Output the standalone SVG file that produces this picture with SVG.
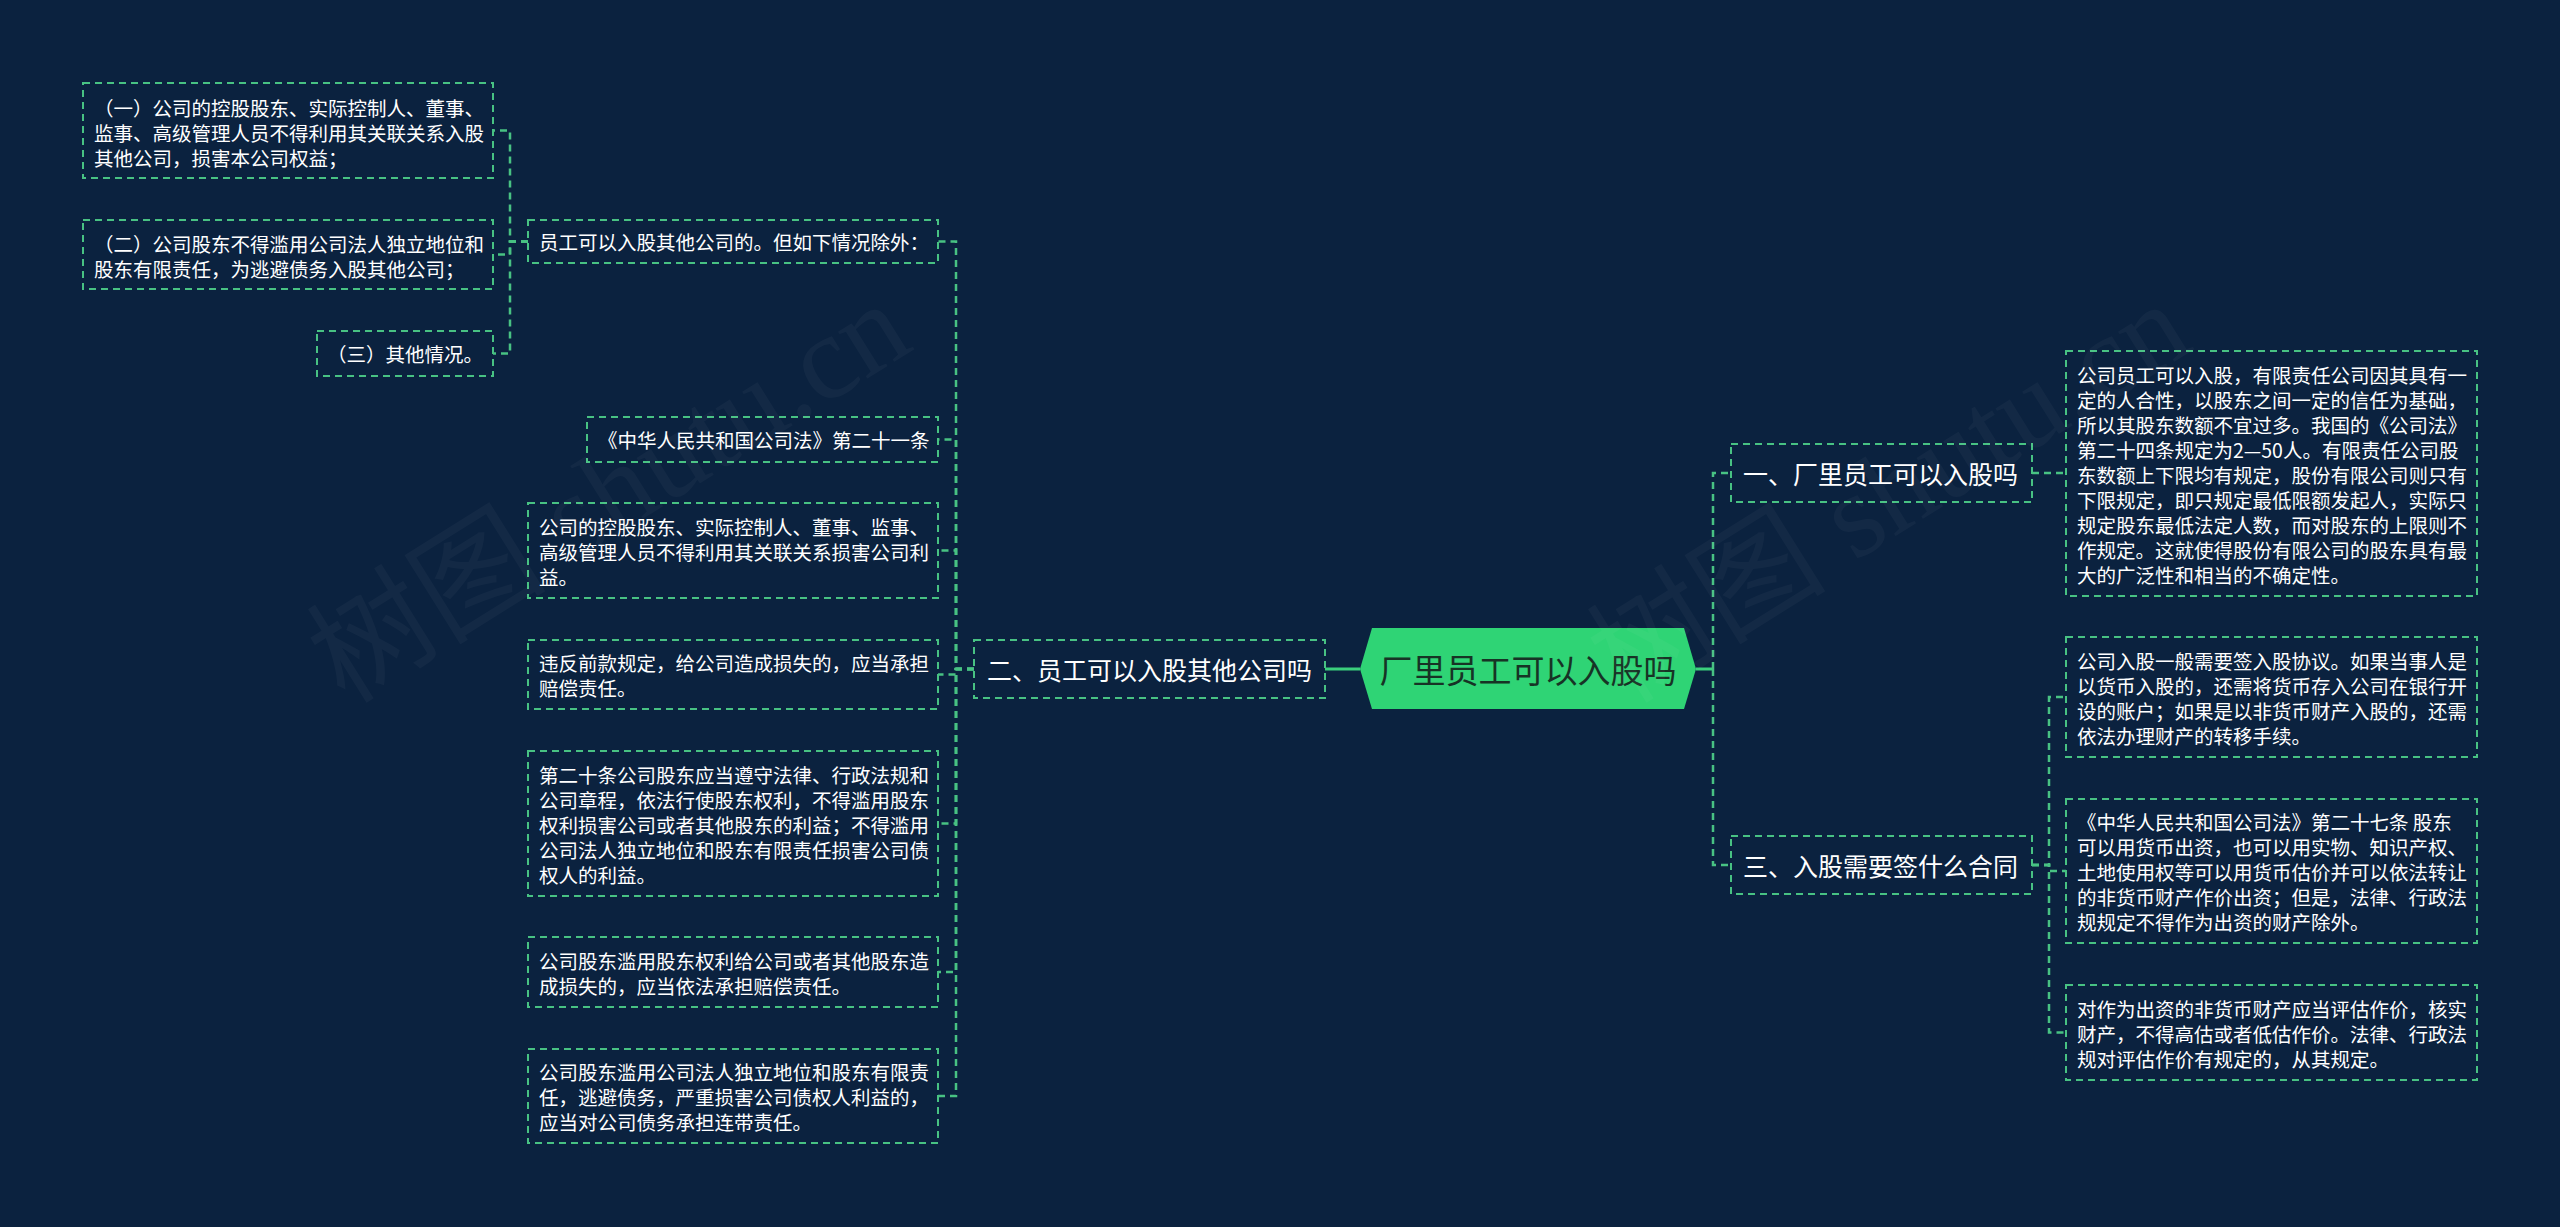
<svg xmlns="http://www.w3.org/2000/svg" width="2560" height="1227" viewBox="0 0 2560 1227">
<style>
.bg{fill:#0b223f}
.box{fill:#0b223f;stroke:#48c283;stroke-width:2;stroke-dasharray:7 5}
.link{fill:none;stroke:#48c283;stroke-width:2.5;stroke-dasharray:7 5}
.solid{fill:none;stroke:#3bcf7c;stroke-width:3}
.t{font-family:"Noto Sans CJK SC","Noto Sans",sans-serif;font-size:19.5px;fill:#ffffff;dominant-baseline:central}
.t1{font-family:"Noto Sans CJK SC","Noto Sans",sans-serif;font-size:25px;fill:#ffffff;dominant-baseline:central}
.root{font-family:"Noto Sans CJK SC","Noto Sans",sans-serif;font-size:33px;fill:#173325;dominant-baseline:central;text-anchor:middle}
.wm{font-family:"Liberation Serif","Noto Sans CJK SC",serif;font-size:120px;fill:#ffffff;opacity:0.03}
</style>
<rect class="bg" x="0" y="0" width="2560" height="1227"/>

<g id="connectors">
<path class="solid" d="M1360 669H1325"/>
<path class="solid" d="M1696 669H1713"/>
<path class="link" d="M1713 669V473H1731"/>
<path class="link" d="M1713 669V865H1731"/>
<path class="link" d="M974 669H956V241.5H938"/>
<path class="link" d="M974 669H956V439.5H938"/>
<path class="link" d="M974 669H956V550.5H938"/>
<path class="link" d="M974 669H956V674.5H938"/>
<path class="link" d="M974 669H956V823.5H938"/>
<path class="link" d="M974 669H956V972H938"/>
<path class="link" d="M974 669H956V1096H938"/>
<path class="link" d="M528 241.5H510V130.5H493"/>
<path class="link" d="M528 241.5H510V254.5H493"/>
<path class="link" d="M528 241.5H510V353.5H493"/>
<path class="link" d="M2032 473H2066"/>
<path class="link" d="M2032 865H2049V697H2066"/>
<path class="link" d="M2032 865H2049V871H2066"/>
<path class="link" d="M2032 865H2049V1032.5H2066"/>
</g>

<g id="root">
<polygon points="1360,669 1372,628 1684,628 1696,669 1684,709 1372,709" fill="#2fd475"/>
<text class="root" x="1528" y="669">厂里员工可以入股吗</text>
</g>

<g id="n-er">
<rect class="box" x="974" y="640" width="351" height="58"/>
<text class="t1" x="987" y="669">二、员工可以入股其他公司吗</text>
</g>

<g id="n-yi">
<rect class="box" x="1731" y="444" width="301" height="58"/>
<text class="t1" x="1743" y="473">一、厂里员工可以入股吗</text>
</g>

<g id="n-san">
<rect class="box" x="1731" y="836" width="301" height="58"/>
<text class="t1" x="1743" y="865">三、入股需要签什么合同</text>
</g>

<g id="n-p1">
<rect class="box" x="528" y="220" width="410" height="43"/>
<text class="t" x="539" y="241.5">员工可以入股其他公司的。但如下情况除外：</text>
</g>

<g id="n-a">
<rect class="box" x="83" y="83" width="410" height="95"/>
<text class="t" x="94"><tspan x="94" y="106.5">（一）公司的控股股东、实际控制人、董事、</tspan><tspan x="94" y="131.5">监事、高级管理人员不得利用其关联关系入股</tspan><tspan x="94" y="156.5">其他公司，损害本公司权益；</tspan></text>
</g>

<g id="n-b">
<rect class="box" x="83" y="220" width="410" height="69"/>
<text class="t"><tspan x="94" y="242.5">（二）公司股东不得滥用公司法人独立地位和</tspan><tspan x="94" y="267.5">股东有限责任，为逃避债务入股其他公司；</tspan></text>
</g>

<g id="n-c">
<rect class="box" x="317" y="331" width="176" height="45"/>
<text class="t" x="327" y="353.5">（三）其他情况。</text>
</g>

<g id="n-p2">
<rect class="box" x="587" y="417" width="351" height="45"/>
<text class="t" x="598" y="439.5">《中华人民共和国公司法》第二十一条</text>
</g>

<g id="n-p3">
<rect class="box" x="528" y="503" width="410" height="95"/>
<text class="t"><tspan x="539" y="525.5">公司的控股股东、实际控制人、董事、监事、</tspan><tspan x="539" y="550.5">高级管理人员不得利用其关联关系损害公司利</tspan><tspan x="539" y="575.5">益。</tspan></text>
</g>

<g id="n-p4">
<rect class="box" x="528" y="640" width="410" height="69"/>
<text class="t"><tspan x="539" y="662">违反前款规定，给公司造成损失的，应当承担</tspan><tspan x="539" y="687">赔偿责任。</tspan></text>
</g>

<g id="n-p5">
<rect class="box" x="528" y="751" width="410" height="145"/>
<text class="t"><tspan x="539" y="773.5">第二十条公司股东应当遵守法律、行政法规和</tspan><tspan x="539" y="798.5">公司章程，依法行使股东权利，不得滥用股东</tspan><tspan x="539" y="823.5">权利损害公司或者其他股东的利益；不得滥用</tspan><tspan x="539" y="848.5">公司法人独立地位和股东有限责任损害公司债</tspan><tspan x="539" y="873.5">权人的利益。</tspan></text>
</g>

<g id="n-p6">
<rect class="box" x="528" y="937" width="410" height="70"/>
<text class="t"><tspan x="539" y="959.5">公司股东滥用股东权利给公司或者其他股东造</tspan><tspan x="539" y="984.5">成损失的，应当依法承担赔偿责任。</tspan></text>
</g>

<g id="n-p7">
<rect class="box" x="528" y="1049" width="410" height="94"/>
<text class="t"><tspan x="539" y="1071">公司股东滥用公司法人独立地位和股东有限责</tspan><tspan x="539" y="1096">任，逃避债务，严重损害公司债权人利益的，</tspan><tspan x="539" y="1121">应当对公司债务承担连带责任。</tspan></text>
</g>

<g id="n-q1">
<rect class="box" x="2066" y="351" width="411" height="245"/>
<text class="t"><tspan x="2077" y="373.5">公司员工可以入股，有限责任公司因其具有一</tspan><tspan x="2077" y="398.5">定的人合性，以股东之间一定的信任为基础，</tspan><tspan x="2077" y="423.5">所以其股东数额不宜过多。我国的《公司法》</tspan><tspan x="2077" y="448.5">第二十四条规定为2—50人。有限责任公司股</tspan><tspan x="2077" y="473.5">东数额上下限均有规定，股份有限公司则只有</tspan><tspan x="2077" y="498.5">下限规定，即只规定最低限额发起人，实际只</tspan><tspan x="2077" y="523.5">规定股东最低法定人数，而对股东的上限则不</tspan><tspan x="2077" y="548.5">作规定。这就使得股份有限公司的股东具有最</tspan><tspan x="2077" y="573.5">大的广泛性和相当的不确定性。</tspan></text>
</g>

<g id="n-q2">
<rect class="box" x="2066" y="637" width="411" height="120"/>
<text class="t"><tspan x="2077" y="659.5">公司入股一般需要签入股协议。如果当事人是</tspan><tspan x="2077" y="684.5">以货币入股的，还需将货币存入公司在银行开</tspan><tspan x="2077" y="709.5">设的账户；如果是以非货币财产入股的，还需</tspan><tspan x="2077" y="734.5">依法办理财产的转移手续。</tspan></text>
</g>

<g id="n-q3">
<rect class="box" x="2066" y="799" width="411" height="144"/>
<text class="t"><tspan x="2077" y="821">《中华人民共和国公司法》第二十七条 股东</tspan><tspan x="2077" y="846">可以用货币出资，也可以用实物、知识产权、</tspan><tspan x="2077" y="871">土地使用权等可以用货币估价并可以依法转让</tspan><tspan x="2077" y="896">的非货币财产作价出资；但是，法律、行政法</tspan><tspan x="2077" y="921">规规定不得作为出资的财产除外。</tspan></text>
</g>

<g id="n-q4">
<rect class="box" x="2066" y="985" width="411" height="95"/>
<text class="t"><tspan x="2077" y="1007.5">对作为出资的非货币财产应当评估作价，核实</tspan><tspan x="2077" y="1032.5">财产，不得高估或者低估作价。法律、行政法</tspan><tspan x="2077" y="1057.5">规对评估作价有规定的，从其规定。</tspan></text>
</g>

<g id="watermark">
<text class="wm" x="345" y="705" transform="rotate(-32 345 705)">树图 shutu.cn</text>
<text class="wm" x="1625" y="705" transform="rotate(-32 1625 705)">树图 shutu.cn</text>
</g>
</svg>
